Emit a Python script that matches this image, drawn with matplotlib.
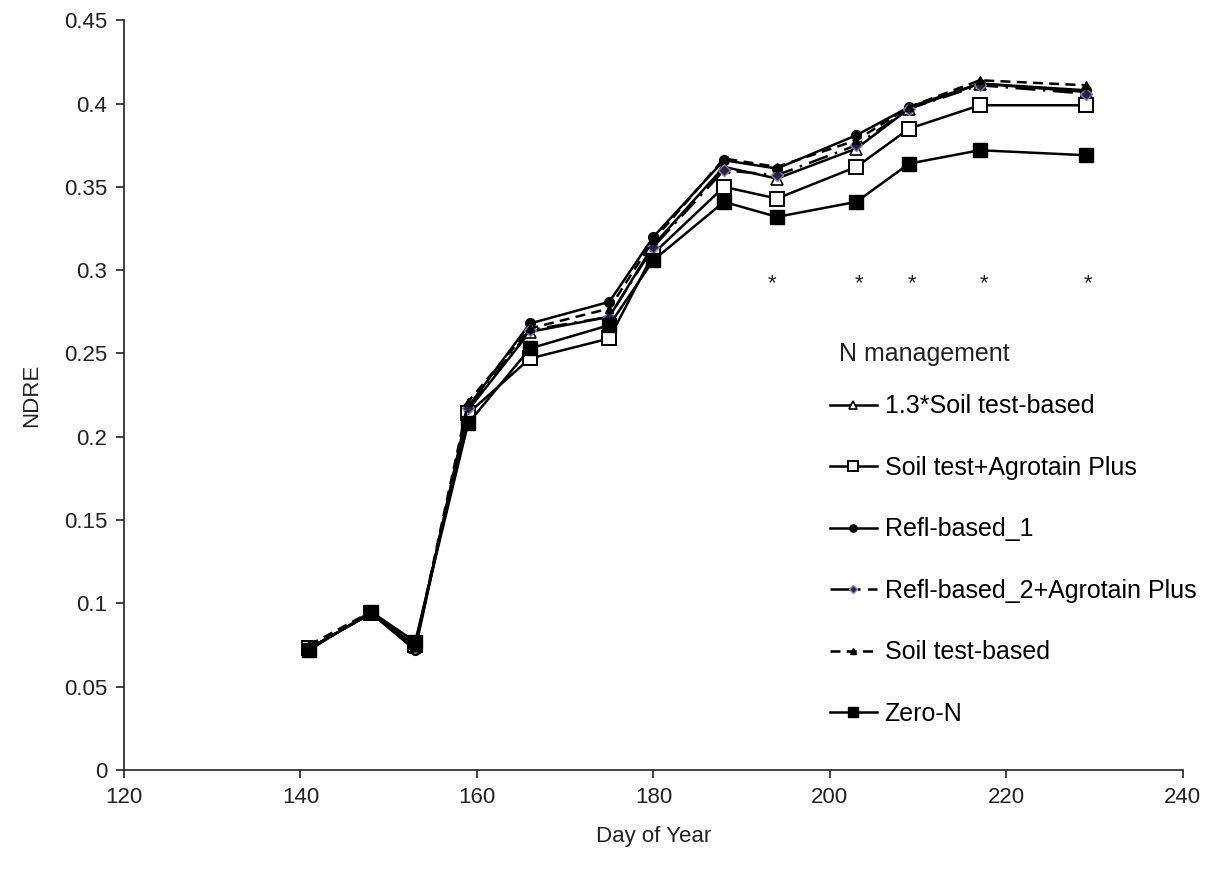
import matplotlib
matplotlib.use("Agg")
import matplotlib.pyplot as plt
from matplotlib.ticker import FuncFormatter

plt.rcParams['font.family'] = ['Liberation Sans', 'DejaVu Sans']

days = [141, 148, 153, 159, 166, 175, 180, 188, 194, 203, 209, 217, 229]

soil13 = [0.073, 0.094, 0.074, 0.216, 0.263, 0.272, 0.315, 0.362, 0.355, 0.373, 0.397, 0.412, 0.407]
soil_agro = [0.073, 0.094, 0.075, 0.214, 0.247, 0.259, 0.310, 0.350, 0.343, 0.362, 0.385, 0.399, 0.399]
refl1 = [0.073, 0.094, 0.072, 0.218, 0.268, 0.281, 0.320, 0.366, 0.361, 0.381, 0.398, 0.412, 0.408]
refl2_agro = [0.073, 0.094, 0.074, 0.217, 0.264, 0.272, 0.314, 0.360, 0.357, 0.375, 0.397, 0.411, 0.406]
soil_based = [0.075, 0.095, 0.074, 0.221, 0.265, 0.277, 0.318, 0.367, 0.362, 0.378, 0.398, 0.414, 0.411]
zero_n = [0.072, 0.095, 0.077, 0.208, 0.253, 0.267, 0.306, 0.341, 0.332, 0.341, 0.364, 0.372, 0.369]

star_days = [193.5, 203.3, 209.3, 217.5, 229.3]
star_y = 0.292

legend_title = 'N management'

fig = plt.figure(figsize=(12.1, 8.82), dpi=100)
ax = fig.add_axes([0.1025, 0.127, 0.875, 0.85])

lw = 1.8
ax.plot(days, soil13, color='black', lw=lw, marker='^', ms=8, mfc='white', mec='black', mew=1.2,
        label='1.3*Soil test-based')
ax.plot(days, soil_agro, color='black', lw=lw, marker='s', ms=10, mfc='white', mec='black', mew=1.4,
        label='Soil test+Agrotain Plus')
ax.plot(days, refl1, color='black', lw=lw, marker='o', ms=7, mfc='black', mec='black',
        label='Refl-based_1')
ax.plot(days, refl2_agro, color='black', lw=lw, ls=(0, (8, 3, 1, 3)), marker='D', ms=6,
        mfc='#2a2340', mec='#8a7ab0', mew=1.0, label='Refl-based_2+Agrotain Plus')
ax.plot(days, soil_based, color='black', lw=lw, ls=(0, (4, 2.5)), marker='^', ms=6,
        mfc='black', mec='black', label='Soil test-based')
ax.plot(days, zero_n, color='black', lw=lw, marker='s', ms=10, mfc='black', mec='black',
        label='Zero-N')

for d in star_days:
    ax.text(d, star_y, '*', ha='center', va='center', fontsize=16, color='#222222')

ax.set_xlim(120, 240)
ax.set_ylim(0, 0.45)
ax.set_xticks(range(120, 241, 20))
ax.set_yticks([i * 0.05 for i in range(10)])
ax.yaxis.set_major_formatter(FuncFormatter(lambda v, p: ('%.2f' % v).rstrip('0').rstrip('.') if v != 0 else '0'))

for s in ['top', 'right']:
    ax.spines[s].set_visible(False)
for s in ['left', 'bottom']:
    ax.spines[s].set_linewidth(1.2)
    ax.spines[s].set_color('#222222')
ax.tick_params(direction='out', length=6, width=1.2, labelsize=16, pad=6, colors='#222222')

ax.set_xlabel('Day of Year', fontsize=16, labelpad=13, color='#222222')
ax.set_ylabel('NDRE', fontsize=16, labelpad=16, color='#222222')

ax.text(0.675, 0.555, legend_title, transform=ax.transAxes, fontsize=18,
        ha='left', va='center', color='#222222')
leg = ax.legend(loc='upper left', bbox_to_anchor=(0.6665, 0.501), frameon=False,
                fontsize=18, labelspacing=1.5, handlelength=1.9, handletextpad=0.3,
                borderaxespad=0, borderpad=0, markerscale=0.75)

fig.savefig('out.png', dpi=100)
